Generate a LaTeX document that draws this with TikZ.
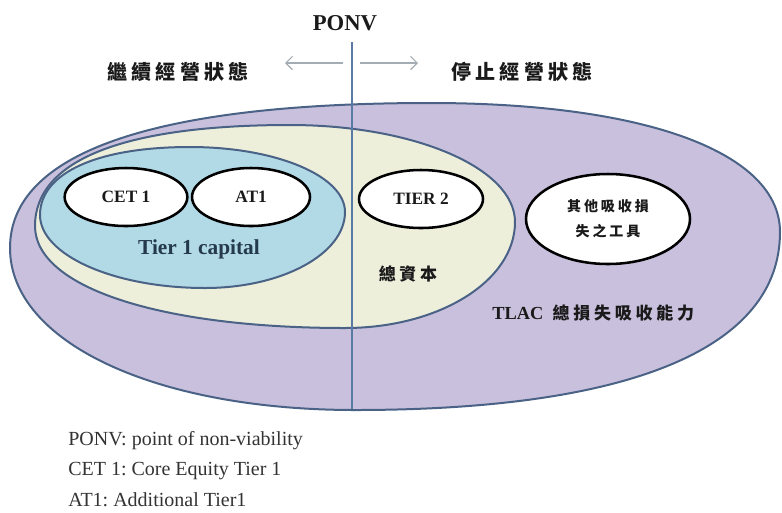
\documentclass[tikz,border=0pt]{standalone}
\usepackage{fontspec}
\setmainfont{Liberation Serif}
\newfontfamily\cjk{Noto Sans CJK TC}
\usetikzlibrary{shapes.geometric,arrows.meta}
\frenchspacing
\definecolor{lav}{HTML}{C9C0DD}
\definecolor{cream}{HTML}{EDEFDB}
\definecolor{tblue}{HTML}{B2D9E6}
\definecolor{rim}{HTML}{4A6285}
\definecolor{vline}{HTML}{5A7AA6}
\definecolor{arr}{HTML}{A3ADB3}
\definecolor{ink}{HTML}{1A1A1A}
\definecolor{noteink}{HTML}{333333}
\definecolor{slate}{HTML}{24394A}
\tikzset{
  zone/.style={draw=rim, line width=1.5pt},
  item/.style={ellipse, draw=black, line width=1.9pt, fill=white, inner sep=0pt, text=ink, align=center},
  lbl/.style={text=ink, inner sep=0pt},
  note/.style={text=noteink, inner sep=0pt, anchor=west, font=\fontsize{15pt}{18pt}\selectfont},
  garrow/.style={draw=arr, line width=0.9pt, -{Straight Barb[length=5pt,width=10pt]}},
  latinb/.style={font=\bfseries\fontsize{13pt}{15pt}\selectfont}
}
\begin{document}
\begin{tikzpicture}[x=0.75pt,y=-0.75pt]
\useasboundingbox (0,0) rectangle (782,512);
% outer TLAC zone: L (10,248) T (430,103) R (780,232) B (355,410)
\draw[zone, fill=lav] (10,248)
  .. controls (10,154) and (150,103) .. (430,103)
  .. controls (647,103) and (780,153) .. (780,232)
  .. controls (780,348) and (631,410) .. (355,410)
  .. controls (155,410) and (10,342) .. cycle;
% total capital zone: L (35,226) T (290,125) R (515,222) B (345,328)
\draw[zone, fill=cream] (35,226)
  .. controls (35,160) and (124,125) .. (290,125)
  .. controls (414,125) and (515,168) .. (515,222)
  .. controls (515,281) and (439,328) .. (345,328)
  .. controls (159,328) and (35,287) .. cycle;
% tier 1 zone: L (40,215) T (190,147) R (345,212) B (205,288)
\draw[zone, fill=tblue] (40,215)
  .. controls (40,173) and (97,147) .. (190,147)
  .. controls (276,147) and (345,176) .. (345,212)
  .. controls (345,254) and (282,288) .. (205,288)
  .. controls (114,288) and (40,255) .. cycle;
% instruments
\node[item, latinb, minimum width=92pt, minimum height=43.5pt] (cet) at (126,197) {CET 1};
\node[item, latinb, minimum width=88.5pt, minimum height=43.5pt] (at1) at (251,197) {AT1};
\node[item, latinb, minimum width=93pt, minimum height=43.5pt] (t2) at (421,199) {TIER 2};
\node[item, minimum width=123pt, minimum height=67.5pt, font=\cjk\bfseries\fontsize{10.5pt}{18.75pt}\selectfont\addfontfeature{LetterSpace=21}] (oth) at (608,219) {其他吸收損\\失之工具};
% PONV divider
\coordinate (vtop) at (352,42);
\coordinate (vbot) at (352,409);
\draw[vline, line width=0.9pt] (vtop) -- (vbot);
\coordinate (la) at (343,63);
\coordinate (lb) at (285,63);
\coordinate (ra) at (360,63);
\coordinate (rb) at (418,63);
\draw[garrow] (la) -- (lb);
\draw[garrow] (ra) -- (rb);
% labels
\node[lbl, font=\bfseries\fontsize{17pt}{19pt}\selectfont] (ponv) at (345,23) {PONV};
\node[lbl, font=\cjk\bfseries\fontsize{15pt}{17pt}\selectfont\addfontfeature{LetterSpace=22}] (going) at (178,72) {繼續經營狀態};
\node[lbl, font=\cjk\bfseries\fontsize{15pt}{17pt}\selectfont\addfontfeature{LetterSpace=22}] (stop) at (522,72) {停止經營狀態};
\node[lbl, text=slate, font=\bfseries\fontsize{16pt}{18pt}\selectfont] (t1) at (199,249) {Tier 1 capital};
\node[lbl, font=\cjk\bfseries\fontsize{12.75pt}{14pt}\selectfont\addfontfeature{LetterSpace=22}] (tot) at (408,274) {總資本};
\node[lbl, anchor=west] (tlac) at (492,313) {{\bfseries\fontsize{13.8pt}{15pt}\selectfont TLAC}\hspace{7pt}{\cjk\bfseries\fontsize{12.75pt}{14pt}\selectfont\addfontfeature{LetterSpace=22}總損失吸收能力}};
% notes
\node[note] (n1) at (68,441) {PONV: point of non-viability};
\node[note] (n2) at (68,471) {CET 1: Core Equity Tier 1};
\node[note] (n3) at (68,500) {AT1: Additional Tier1};
\end{tikzpicture}
\end{document}
